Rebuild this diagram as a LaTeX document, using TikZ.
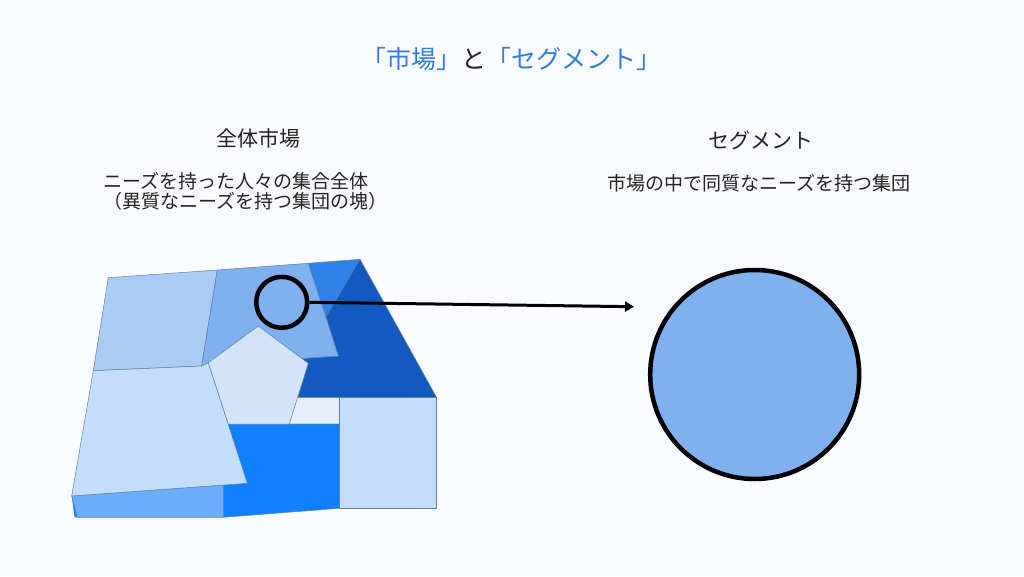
\documentclass[tikz,border=0pt]{standalone}
\usepackage{fontspec}
\setmainfont{Noto Sans CJK JP}
\usetikzlibrary{arrows.meta}
\definecolor{bg}{HTML}{FAFBFE}
\definecolor{cA}{HTML}{A9CBF4}
\definecolor{cB}{HTML}{7FB0F0}
\definecolor{cC}{HTML}{2F80E8}
\definecolor{cD}{HTML}{1259C0}
\definecolor{cE}{HTML}{D4E4F8}
\definecolor{cF}{HTML}{E6F0FD}
\definecolor{cG}{HTML}{C3DDFA}
\definecolor{cH}{HTML}{1080FF}
\definecolor{cI}{HTML}{6AAEFB}
\definecolor{edge}{HTML}{5F7EA8}
\definecolor{ttl}{HTML}{2D7FE0}
\definecolor{txt}{HTML}{222222}
\tikzset{
  piece/.style={draw=edge, line width=0.5pt, line join=round},
  ring/.style={draw=black, line width=4.5pt},
  lbl/.style={inner sep=0pt, text=txt},
}
\begin{document}
\begin{tikzpicture}[x=1pt,y=-1pt]
\fill[bg] (0,0) rectangle (1024,576);
\useasboundingbox (0,0) rectangle (1024,576);
% mosaic
\fill[piece, fill=cC] (308.3,263.3) -- (360,259.3) -- (326,316.7) -- cycle;
\fill[piece, fill=cD] (360,259.3) -- (436.7,397.7) -- (298,397.7) -- (302,358.5) -- (338.3,356) -- (326,316.7) -- cycle;
\filldraw[piece, fill=cA] (108.3,277.7) -- (217.3,270) -- (201.7,366) -- (93.3,370.7) -- cycle;
\filldraw[piece, fill=cB] (217.3,270) -- (308.3,263.3) -- (338.3,356) -- (300,358.5) -- (201.7,366) -- cycle;
\filldraw[piece, fill=cF] (296,397.7) -- (339.3,397.7) -- (339.3,424) -- (289.3,424) -- cycle;
\filldraw[piece, fill=cG] (339.3,397.7) rectangle (436.7,508.3);
\filldraw[piece, fill=cH] (228.3,424) -- (339.3,424) -- (339.3,508.3) -- (223.3,517.3) -- (223.3,486) -- cycle;
\filldraw[piece, fill=cI] (71.7,496) -- (223.3,485) -- (223.3,517.3) -- (77.3,517.3) -- cycle;
\fill[cC] (71.7,496) -- (77.3,517.3) -- (74.5,517.3) -- cycle;
\filldraw[piece, fill=cG] (93.3,370.7) -- (201.7,366) -- (208.3,362.7) -- (247.3,483.3) -- (71.7,496) -- cycle;
\filldraw[piece, fill=cE] (258.3,326) -- (308.3,363.3) -- (289.3,424) -- (228.3,424) -- (208.3,362.7) -- cycle;
% circles and arrow
\node[ring, circle, minimum size=51pt, inner sep=0pt] (small) at (281.7,302.3) {};
\node[ring, circle, fill=cB, minimum size=209pt, inner sep=0pt] (big) at (754.7,374.5) {};
\coordinate (tip) at (634,306.7);
\draw[line width=3pt, -{Triangle[length=9pt,width=10pt]}] (small.east) -- (tip);
% texts
\node[lbl, font=\fontsize{25}{30}\selectfont] (title) at (511,59) {\textcolor{ttl}{「市場」}と\textcolor{ttl}{「セグメント」}};
\node[lbl, font=\fontsize{21}{25}\selectfont] (h1) at (258,138.5) {全体市場};
\node[lbl, font=\fontsize{19}{20}\selectfont, align=left, anchor=west] (d1) at (103,191) {ニーズを持った人々の集合全体\\（異質なニーズを持つ集団の塊）};
\node[lbl, font=\fontsize{21}{25}\selectfont] (h2) at (761,140.5) {セグメント};
\node[lbl, font=\fontsize{19}{22}\selectfont] (d2) at (758.7,183.3) {市場の中で同質なニーズを持つ集団};
\end{tikzpicture}
\end{document}
